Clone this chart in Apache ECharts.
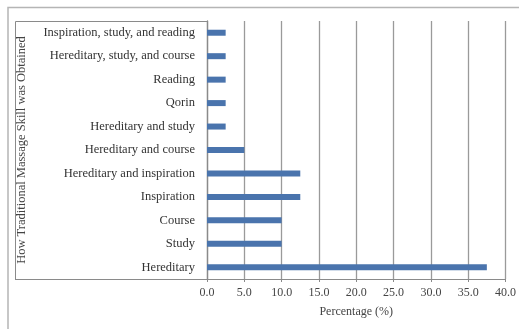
<!DOCTYPE html>
<html>
<head>
<meta charset="utf-8">
<script src="https://cdn.jsdelivr.net/npm/echarts@6/dist/echarts.min.js"></script>
<style>
  html, body { margin: 0; padding: 0; background: #fff; }
  #chart { width: 519px; height: 329px; }
</style>
</head>
<body>
<div id="chart"></div>
<script>
// categories listed top to bottom as they appear in the picture
var categories = [
  'Inspiration, study, and reading',
  'Hereditary, study, and course',
  'Reading',
  'Qorin',
  'Hereditary and study',
  'Hereditary and course',
  'Hereditary and inspiration',
  'Inspiration',
  'Course',
  'Study',
  'Hereditary'
]
var percentages = [2.5, 2.5, 2.5, 2.5, 2.5, 5.0, 12.5, 12.5, 10.0, 10.0, 37.5]
var xTicks = { min: 0, max: 40, interval: 5 }

var serif = '"Liberation Serif", "DejaVu Serif", serif'
var chart = echarts.init(document.getElementById('chart'))

chart.setOption({
  animation: false,
  grid: { left: 207, right: 10, top: 21, bottom: 50, containLabel: false },
  xAxis: {
    type: 'value',
    min: xTicks.min,
    max: xTicks.max,
    interval: xTicks.interval,
    name: 'Percentage (%)',
    nameLocation: 'middle',
    nameGap: 27,
    nameTextStyle: { fontFamily: serif, fontSize: 12, color: '#444' },
    axisLabel: {
      fontFamily: serif, fontSize: 12, color: '#444', margin: 8,
      formatter: function (v) { return v.toFixed(1) }
    },
    axisLine: { show: true, lineStyle: { color: '#8a8a8a', width: 1 } },
    axisTick: { show: true, length: 3, lineStyle: { color: '#8a8a8a' } },
    splitLine: { show: true, lineStyle: { color: '#9a9a9a', width: 1.3 } }
  },
  yAxis: {
    type: 'category',
    inverse: true,
    data: categories,
    name: 'How Traditional Massage Skill was Obtained',
    nameLocation: 'middle',
    nameGap: 179,
    nameTextStyle: { fontFamily: serif, fontSize: 12.5, color: '#444' },
    axisLabel: { fontFamily: serif, fontSize: 12.5, color: '#333', margin: 12 },
    axisLine: { show: true, lineStyle: { color: '#8a8a8a', width: 1.3 } },
    axisTick: { show: false }
  },
  graphic: [
    // outer chart frame (top and left edges visible)
    { type: 'polyline', silent: true, shape: { points: [[8, 329], [8, 7.5], [519, 7.5]] },
      style: { stroke: '#b5b5b5', lineWidth: 1.5, fill: null } },
    // box around label area
    { type: 'polyline', silent: true, shape: { points: [[15.5, 279], [15.5, 21.5], [207, 21.5]] },
      style: { stroke: '#8a8a8a', lineWidth: 1, fill: null } },
    { type: 'line', silent: true, shape: { x1: 15, y1: 279.5, x2: 207, y2: 279.5 },
      style: { stroke: '#8a8a8a', lineWidth: 1 } }
  ],
  series: [{
    type: 'bar',
    data: percentages,
    barWidth: 6,
    itemStyle: { color: '#4a74ad' }
  }]
})
</script>
</body>
</html>
